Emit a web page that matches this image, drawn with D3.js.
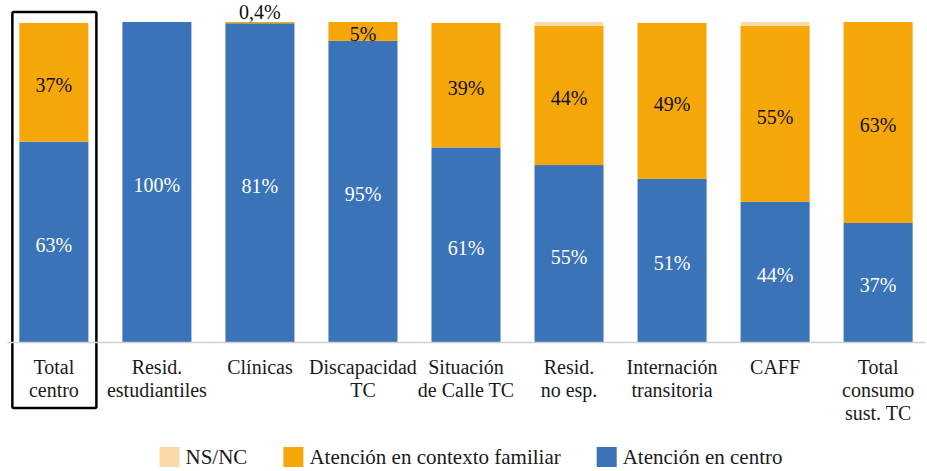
<!DOCTYPE html>
<html>
<head>
<meta charset="utf-8">
<script src="https://cdn.jsdelivr.net/npm/d3@7"></script>
<style>
  html, body { margin: 0; padding: 0; background: #fff; }
  svg { display: block; }
</style>
</head>
<body>
<svg id="chart" width="927" height="471"></svg>
<script>
// ---- Data ----
const categories = [
  "Total|centro",
  "Resid.|estudiantiles",
  "Clínicas",
  "Discapacidad|TC",
  "Situación|de Calle TC",
  "Resid.|no esp.",
  "Internación|transitoria",
  "CAFF",
  "Total|consumo|sust. TC"
];
const seriesNames = ["Atención en centro", "Atención en contexto familiar", "NS/NC"];
const centro   = [62.6, 100, 99.6, 94.1, 60.8, 55.3, 51.0, 43.8, 37.2];
const familiar = [37.1, 0,   0.4,  5.9,  38.9, 43.5, 48.7, 55.0, 62.8];
const nsnc     = [0,    0,   0,    0,    0,    1.2,  0,    1.2,  0];
const centroLabels   = ["63%", "100%", "81%", "95%", "61%", "55%", "51%", "44%", "37%"];
const familiarLabels = ["37%", "", "0,4%", "5%", "39%", "44%", "49%", "55%", "63%"];
const highlighted = "Total|centro";
const colors = ["#3A73B8", "#F5A70A", "#FBDAAA"];

const FONT = `"Liberation Serif"`;

// ---- Layout ----
const svg = d3.select("#chart");
const x = d3.scaleBand().domain(categories).range([7, 925]).paddingInner(0.33).paddingOuter(0.12);
const y = d3.scaleLinear().domain([0, 100]).range([342, 22]);

const rows = categories.map((c, i) => ({ cat: c, c0: centro[i], c1: familiar[i], c2: nsnc[i], i }));
const stack = d3.stack().keys(["c0", "c1", "c2"]);
const layers = stack(rows);

// highlight box
svg.append("rect")
  .attr("x", x(highlighted) - 7)
  .attr("y", 12)
  .attr("width", x.bandwidth() + 15)
  .attr("height", 396)
  .attr("rx", 1.5)
  .attr("fill", "none")
  .attr("stroke", "#000")
  .attr("stroke-width", 2.5);

// bars
svg.append("g").selectAll("g").data(layers).join("g")
  .attr("fill", (d, k) => colors[k])
  .selectAll("rect").data(d => d).join("rect")
  .attr("x", d => x(d.data.cat))
  .attr("width", x.bandwidth())
  .attr("y", d => y(d[1]))
  .attr("height", d => y(d[0]) - y(d[1]));

// axis (baseline + category labels)
const axis = d3.axisBottom(x).tickSize(0).tickFormat("");
const ax = svg.append("g").attr("transform", `translate(0,${y(0)})`).call(axis);
ax.select(".domain").attr("stroke", "#D0D0D0").attr("stroke-width", 1.5);
ax.selectAll(".tick").each(function(c) {
  const t = d3.select(this).append("text")
    .attr("text-anchor", "middle")
    .attr("fill", "#1a1a1a")
    .style("font-family", FONT)
    .style("font-size", "20px");
  c.split("|").forEach((line, j) => {
    t.append("tspan").attr("x", 0).attr("y", 32 + j * 23).text(line);
  });
});

// value labels
const lab = svg.append("g").attr("text-anchor", "middle");
rows.forEach(d => {
  const cx = x(d.cat) + x.bandwidth() / 2;
  if (centroLabels[d.i]) {
    lab.append("text")
      .attr("x", cx)
      .attr("y", (y(0) + y(d.c0)) / 2 + 10)
      .attr("fill", "#fff")
      .style("font-family", FONT).style("font-size", "20px")
      .text(centroLabels[d.i]);
  }
  if (familiarLabels[d.i]) {
    const top = y(d.c0 + d.c1), bot = y(d.c0);
    const small = bot - top < 10;
    lab.append("text")
      .attr("x", cx)
      .attr("y", small ? top - 3 : (top + bot) / 2 + 10)
      .attr("fill", "#111")
      .style("font-family", FONT).style("font-size", "20px")
      .text(familiarLabels[d.i]);
  }
});

// legend
const legendOrder = [2, 1, 0];
const lg = svg.append("g");
const items = [];
legendOrder.forEach(k => {
  const g = lg.append("g");
  g.append("rect").attr("x", 0).attr("y", 447).attr("width", 20).attr("height", 20).attr("fill", colors[k]);
  const t = g.append("text").attr("x", 26).attr("y", 464).attr("fill", "#1a1a1a")
    .style("font-family", FONT).style("font-size", "21px")
    .text(seriesNames[k]);
  items.push({ g, w: 26 + t.node().getComputedTextLength() });
});
const gap = 36;
const total = d3.sum(items, d => d.w) + gap * (items.length - 1);
let lx = 471 - total / 2;
items.forEach(it => { it.g.attr("transform", `translate(${lx},0)`); lx += it.w + gap; });
</script>
</body>
</html>
